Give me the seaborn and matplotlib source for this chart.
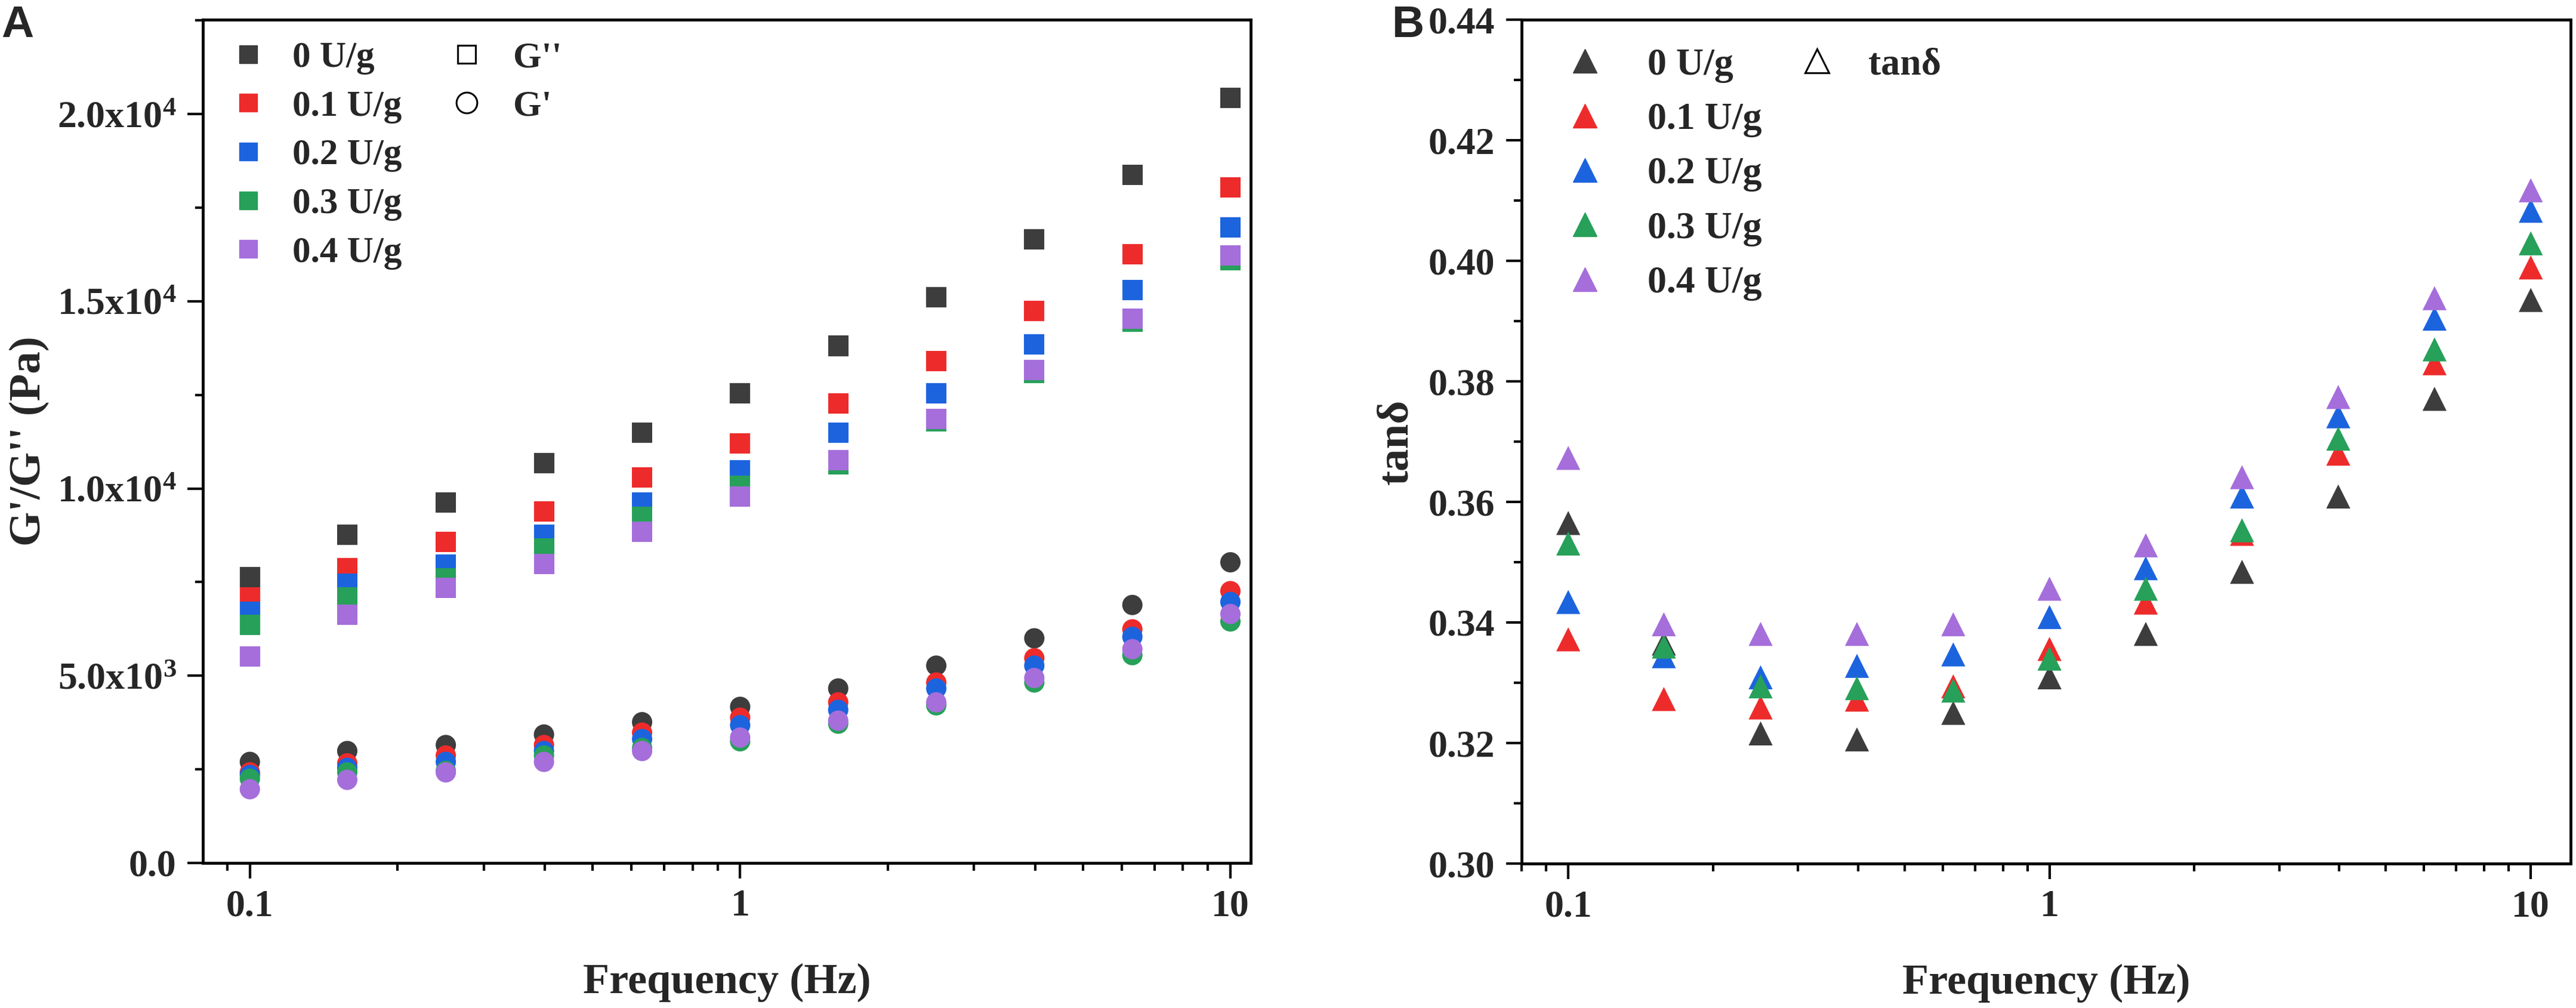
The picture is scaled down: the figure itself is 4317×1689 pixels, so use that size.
import numpy as np
import pandas as pd
import matplotlib
matplotlib.use('Agg')
import matplotlib.pyplot as plt
import seaborn as sns
from matplotlib.lines import Line2D
from matplotlib.ticker import FixedLocator, FuncFormatter, MultipleLocator, LogLocator, NullFormatter

# ---------------- data ----------------
freq = [0.1, 0.158, 0.251, 0.398, 0.631, 1.0, 1.585, 2.512, 3.981, 6.31, 10.0]
conc = ['0 U/g', '0.1 U/g', '0.2 U/g', '0.3 U/g', '0.4 U/g']
colors = ['#3d3d3d', '#ee2b2b', '#1c64de', '#27a05a', '#a56edb']

# G'' (loss modulus, squares)
g2_0 = [7630, 8770, 9620, 10680, 11490, 12550, 13810, 15110, 16660, 18380, 20430]
g2_1 = [7100, 7870, 8570, 9380, 10300, 11210, 12270, 13400, 14750, 16250, 18040]
g2_2 = [6710, 7460, 7970, 8770, 9620, 10480, 11490, 12550, 13850, 15300, 16980]
g2_3 = [6360, 7100, 7600, 8400, 9250, 10070, 10650, 11800, 13080, 14460, 16100]
g2_4 = [5510, 6630, 7340, 7990, 8850, 9780, 10760, 11860, 13160, 14540, 16230]

# G' (storage modulus, circles)
g1_0 = [2700, 2990, 3150, 3430, 3760, 4170, 4660, 5270, 6000, 6890, 8030]
g1_1 = [2420, 2660, 2870, 3150, 3480, 3880, 4290, 4820, 5470, 6240, 7260]
g1_2 = [2350, 2540, 2700, 2990, 3310, 3680, 4090, 4660, 5270, 6040, 6970]
g1_3 = [2250, 2420, 2460, 2870, 3070, 3250, 3720, 4210, 4820, 5550, 6450]
g1_4 = [1970, 2220, 2420, 2700, 2990, 3350, 3800, 4290, 4940, 5710, 6650]

# tan delta (triangles)
tan_0 = [0.3565, 0.3365, 0.3216, 0.3206, 0.3250, 0.3309, 0.3381, 0.3484, 0.3609, 0.3771, 0.3935]
tan_1 = [0.3372, 0.3273, 0.3259, 0.3272, 0.3294, 0.3356, 0.3433, 0.3547, 0.3680, 0.3830, 0.3989]
tan_2 = [0.3434, 0.3344, 0.3309, 0.3328, 0.3347, 0.3409, 0.3490, 0.3609, 0.3742, 0.3904, 0.4083]
tan_3 = [0.3531, 0.3360, 0.3294, 0.3291, 0.3287, 0.3340, 0.3456, 0.3553, 0.3705, 0.3853, 0.4029]
tan_4 = [0.3673, 0.3397, 0.3381, 0.3381, 0.3397, 0.3456, 0.3528, 0.3641, 0.3774, 0.3938, 0.4117]

x_ticks = [0.1, 1, 10]
x_ticklabels = ['0.1', '1', '10']
yA_ticks = [0, 5000, 10000, 15000, 20000]
yA_ticklabels = ['0.0', r'5.0x10$^{\mathbf{3}}$', r'1.0x10$^{\mathbf{4}}$',
                 r'1.5x10$^{\mathbf{4}}$', r'2.0x10$^{\mathbf{4}}$']
yB_ticks = [0.30, 0.32, 0.34, 0.36, 0.38, 0.40, 0.42, 0.44]
yB_ticklabels = ['0.30', '0.32', '0.34', '0.36', '0.38', '0.40', '0.42', '0.44']

G2 = [g2_0, g2_1, g2_2, g2_3, g2_4]
G1 = [g1_0, g1_1, g1_2, g1_3, g1_4]
TAN = [tan_0, tan_1, tan_2, tan_3, tan_4]

rowsA = []
for c, s2, s1 in zip(conc, G2, G1):
    for f, v in zip(freq, s2):
        rowsA.append({'freq': f, 'conc': c, 'mod': "G''", 'value': v})
    for f, v in zip(freq, s1):
        rowsA.append({'freq': f, 'conc': c, 'mod': "G'", 'value': v})
dfA = pd.DataFrame(rowsA)

rowsB = []
for c, st in zip(conc, TAN):
    for f, v in zip(freq, st):
        rowsB.append({'freq': f, 'conc': c, 'value': v})
dfB = pd.DataFrame(rowsB)

# ---------------- style ----------------
sns.set_theme(style='ticks')
plt.rcParams['font.family'] = ['Liberation Serif', 'DejaVu Serif']
plt.rcParams['font.weight'] = 'bold'
plt.rcParams['axes.labelweight'] = 'bold'
plt.rcParams['mathtext.fontset'] = 'custom'
plt.rcParams['mathtext.rm'] = 'Liberation Serif:bold'
plt.rcParams['mathtext.bf'] = 'Liberation Serif:bold'
plt.rcParams['mathtext.it'] = 'Liberation Serif:bold'

W, H = 4317, 1689
fig = plt.figure(figsize=(W / 100, H / 100), dpi=100)
axA = fig.add_axes([340 / W, 1 - 1446 / H, (2096 - 340) / W, (1446 - 33) / H])
axB = fig.add_axes([2550 / W, 1 - 1447 / H, (4308 - 2550) / W, (1447 - 33) / H])

pal = dict(zip(conc, colors))
sns.scatterplot(data=dfA, x='freq', y='value', hue='conc', style='mod',
                markers={"G''": 's', "G'": 'o'}, palette=pal, s=600,
                linewidth=0, legend=False, ax=axA, zorder=3)
sns.scatterplot(data=dfB, x='freq', y='value', hue='conc', marker='^',
                palette=pal, s=841, linewidth=0, legend=False, ax=axB, zorder=3)

TICK_FS = 46
XLABEL_FS = 52
YLABEL_FS = 54
for ax in (axA, axB):
    ax.set_xscale('log')
    ax.xaxis.set_major_locator(FixedLocator(x_ticks))
    ax.xaxis.set_major_formatter(FuncFormatter(lambda v, p: x_ticklabels[x_ticks.index(v)] if v in x_ticks else ''))
    ax.xaxis.set_minor_locator(LogLocator(base=10, subs=np.arange(2, 10) * 1.0, numticks=20))
    ax.xaxis.set_minor_formatter(NullFormatter())
    for sp in ax.spines.values():
        sp.set_linewidth(3.5)
        sp.set_color('black')
        sp.set_visible(True)
    ax.tick_params(which='major', direction='out', length=19, width=3, color='black',
                   labelsize=TICK_FS, pad=13, top=False, right=False)
    ax.tick_params(which='minor', direction='out', length=9.5, width=3, color='black',
                   top=False, right=False)
    ax.set_xlabel('Frequency (Hz)', fontsize=XLABEL_FS, fontweight='bold', labelpad=47)

axA.set_xlim(0.0802, 11.0)
axB.set_xlim(0.080, 12.1)

axA.set_ylim(0, 22520)
axA.yaxis.set_major_locator(FixedLocator(yA_ticks))
axA.yaxis.set_major_formatter(FuncFormatter(lambda v, p: yA_ticklabels[yA_ticks.index(int(round(v)))] if int(round(v)) in yA_ticks else ''))
axA.yaxis.set_minor_locator(MultipleLocator(2500))
axA.set_ylabel("G'/G'' (Pa)", fontsize=YLABEL_FS, fontweight='bold', labelpad=9)

axB.set_ylim(0.30, 0.44)
axB.yaxis.set_major_locator(FixedLocator(yB_ticks))
axB.yaxis.set_major_formatter(FuncFormatter(lambda v, p: yB_ticklabels[int(round((v - 0.30) / 0.02))]))
axB.yaxis.set_minor_locator(MultipleLocator(0.01))
axB.set_ylabel('tanδ', fontsize=YLABEL_FS, fontweight='bold', labelpad=14)

for ax in (axA, axB):
    for lab in ax.get_xticklabels() + ax.get_yticklabels():
        lab.set_fontweight('bold')

# ---------------- legends ----------------
LEG_A_FS = 44
LEG_B_FS = 46
common = dict(loc='upper left', frameon=False, handlelength=1.0,
              borderaxespad=0, borderpad=0)

hA1 = [Line2D([], [], marker='s', linestyle='none', color=c, markersize=22) for c in colors]
legA1 = axA.legend(hA1, conc, bbox_to_anchor=(0.0259, 0.9745), fontsize=LEG_A_FS,
                   handletextpad=0.71, labelspacing=0.42, **common)
axA.add_artist(legA1)
hA2 = [Line2D([], [], marker='s', linestyle='none', markerfacecolor='none',
              markeredgecolor='black', markeredgewidth=2.2, markersize=22),
       Line2D([], [], marker='o', linestyle='none', markerfacecolor='none',
              markeredgecolor='black', markeredgewidth=2.2, markersize=25)]
legA2 = axA.legend(hA2, ["G''", "G'"], bbox_to_anchor=(0.2343, 0.9745), fontsize=LEG_A_FS,
                   handletextpad=0.78, labelspacing=0.42, **common)

hB1 = [Line2D([], [], marker='^', linestyle='none', color=c, markersize=29) for c in colors]
legB1 = axB.legend(hB1, conc, bbox_to_anchor=(0.0421, 0.9668), fontsize=LEG_B_FS,
                   handletextpad=1.14, labelspacing=0.51, **common)
axB.add_artist(legB1)
hB2 = [Line2D([], [], marker='^', linestyle='none', markerfacecolor='none',
              markeredgecolor='black', markeredgewidth=2.2, markersize=29)]
legB2 = axB.legend(hB2, ['tanδ'], bbox_to_anchor=(0.2634, 0.9668), fontsize=LEG_B_FS,
                   handletextpad=0.85, labelspacing=0.51, **common)

# ---------------- panel letters ----------------
fig.text(2 / W, 1 - 8 / H, 'A', fontsize=54, fontweight='bold', family=['Liberation Sans', 'DejaVu Sans'],
         ha='left', va='top')
fig.text(2333 / W, 1 - 8 / H, 'B', fontsize=54, fontweight='bold', family=['Liberation Sans', 'DejaVu Sans'],
         ha='left', va='top')

fig.savefig('out.png', dpi=100, facecolor='white')
